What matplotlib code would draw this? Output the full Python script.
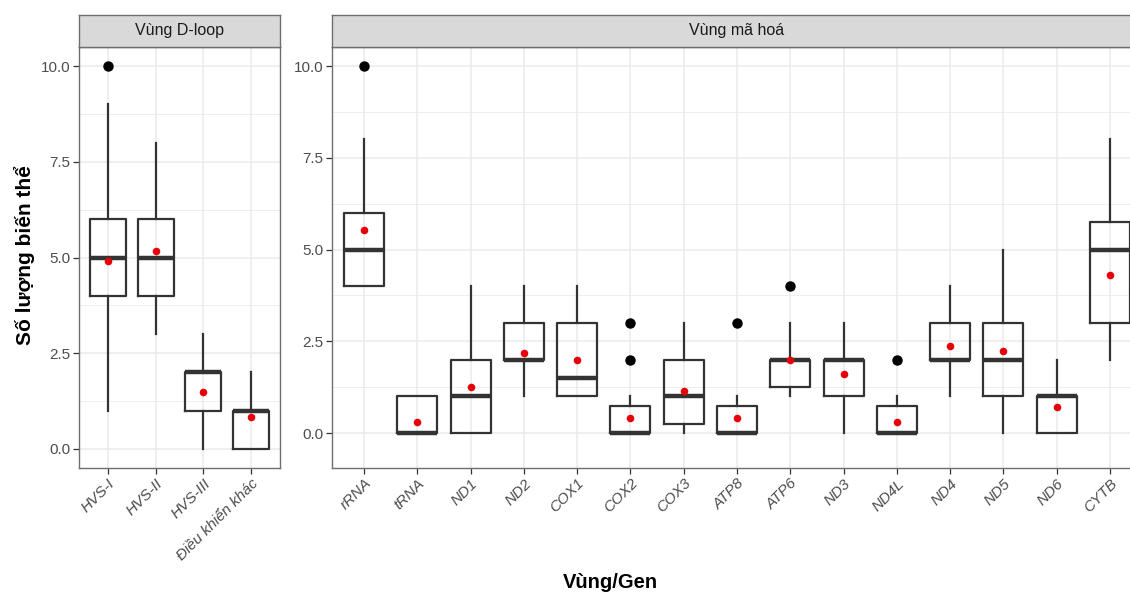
import numpy as np
import matplotlib.pyplot as plt

plt.rcParams['font.family'] = ['Liberation Sans', 'DejaVu Sans']

# D-loop region: five-number summaries, means and outliers per segment
dloop_genes = ['HVS-I', 'HVS-II', 'HVS-III', 'Điều khiển khác']
dloop_low = [1, 3, 0, 0]
dloop_q1 = [4, 4, 1, 0]
dloop_med = [5, 5, 2, 1]
dloop_q3 = [6, 6, 2, 1]
dloop_high = [9, 8, 3, 2]
dloop_mean = [4.92, 5.18, 1.48, 0.83]
dloop_out = [[10], [], [], []]

# coding region genes
coding_genes = ['rRNA', 'tRNA', 'ND1', 'ND2', 'COX1', 'COX2', 'COX3', 'ATP8',
                'ATP6', 'ND3', 'ND4L', 'ND4', 'ND5', 'ND6', 'CYTB']
coding_low = [4, 0, 0, 1, 1, 0, 0, 0, 1, 0, 0, 1, 0, 0, 2]
coding_q1 = [4, 0, 0, 2, 1, 0, 0.25, 0, 1.25, 1, 0, 2, 1, 0, 3]
coding_med = [5, 0, 1, 2, 1.5, 0, 1, 0, 2, 2, 0, 2, 2, 1, 5]
coding_q3 = [6, 1, 2, 3, 3, 0.75, 2, 0.75, 2, 2, 0.75, 3, 3, 1, 5.75]
coding_high = [8, 1, 4, 4, 4, 1, 3, 1, 3, 3, 1, 4, 5, 2, 8]
coding_mean = [5.53, 0.30, 1.25, 2.18, 1.99, 0.41, 1.15, 0.41, 2.0, 1.60,
               0.30, 2.37, 2.23, 0.71, 4.30]
coding_out = [[10], [], [], [], [], [2, 3], [], [3], [4], [], [2], [], [], [], []]

W, H = 1130, 592
BOX = '#333333'
BORDER = '#6e6e6e'
GRID = '#EBEBEB'
TICKTXT = '#4D4D4D'


def px(x0, y0, x1, y1):
    # pixel box (top-left origin) -> figure fraction rect
    return [x0 / W, 1 - y1 / H, (x1 - x0) / W, (y1 - y0) / H]


def draw_panel(fig, rect, title, labels, low, q1, med, q3, high, mean, out, ylim):
    ax = fig.add_axes(px(*rect))
    stats = []
    for i in range(len(labels)):
        stats.append(dict(whislo=low[i], q1=q1[i], med=med[i], q3=q3[i],
                          whishi=high[i], fliers=out[i]))
    pos = np.arange(1, len(labels) + 1)
    ax.bxp(stats, positions=pos, widths=0.75, showcaps=False,
           boxprops=dict(color=BOX, linewidth=1.6),
           whiskerprops=dict(color=BOX, linewidth=1.6),
           medianprops=dict(color=BOX, linewidth=3.2, solid_capstyle='butt'),
           flierprops=dict(marker='o', markerfacecolor='black',
                           markeredgecolor='black', markersize=6.5))
    ax.scatter(pos, mean, color='#E8000B', s=30, zorder=5, linewidths=0)

    ax.set_xlim(0.4, len(labels) + 0.6)
    ax.set_ylim(*ylim)
    ax.set_yticks([0, 2.5, 5, 7.5, 10])
    ax.set_yticklabels(['0.0', '2.5', '5.0', '7.5', '10.0'])
    ax.set_yticks([1.25, 3.75, 6.25, 8.75], minor=True)
    ax.set_xticks(pos)
    ax.set_xticklabels(labels, rotation=45, ha='right', va='top',
                       rotation_mode='anchor', style='italic')
    ax.set_axisbelow(True)
    ax.grid(which='major', color=GRID, linewidth=1.1)
    ax.grid(which='minor', axis='y', color=GRID, linewidth=0.6)
    ax.tick_params(which='major', length=4, width=0.9, color=BOX,
                   labelsize=11, labelcolor=TICKTXT, pad=2)
    ax.tick_params(which='minor', length=0)
    for s in ax.spines.values():
        s.set_color(BORDER)
        s.set_linewidth(1.0)

    # facet strip
    sx = fig.add_axes(px(rect[0], 15, rect[2], 47))
    sx.set_facecolor('#D9D9D9')
    sx.set_xticks([])
    sx.set_yticks([])
    for s in sx.spines.values():
        s.set_color(BORDER)
        s.set_linewidth(1.0)
    cx = (rect[0] + rect[2]) / 2
    fig.text(cx / W, 1 - 31 / H, title, ha='center', va='center',
             fontsize=11.5, color='#1A1A1A')
    return ax


fig = plt.figure(figsize=(W / 100, H / 100), dpi=100)

draw_panel(fig, (79, 47, 280, 468), 'Vùng D-loop', dloop_genes,
           dloop_low, dloop_q1, dloop_med, dloop_q3, dloop_high,
           dloop_mean, dloop_out, (-0.5, 10.5))
draw_panel(fig, (332, 47, 1142, 468), 'Vùng mã hoá', coding_genes,
           coding_low, coding_q1, coding_med, coding_q3, coding_high,
           coding_mean, coding_out, (-0.95, 10.52))

fig.text(25 / W, 1 - 255 / H, 'Số lượng biến thể', rotation=90,
         ha='center', va='center', fontsize=15, fontweight='bold')
fig.text(610 / W, 1 - 582 / H, 'Vùng/Gen', ha='center', va='center',
         fontsize=14.5, fontweight='bold')

fig.savefig('out.png', dpi=100)
plt.close()
